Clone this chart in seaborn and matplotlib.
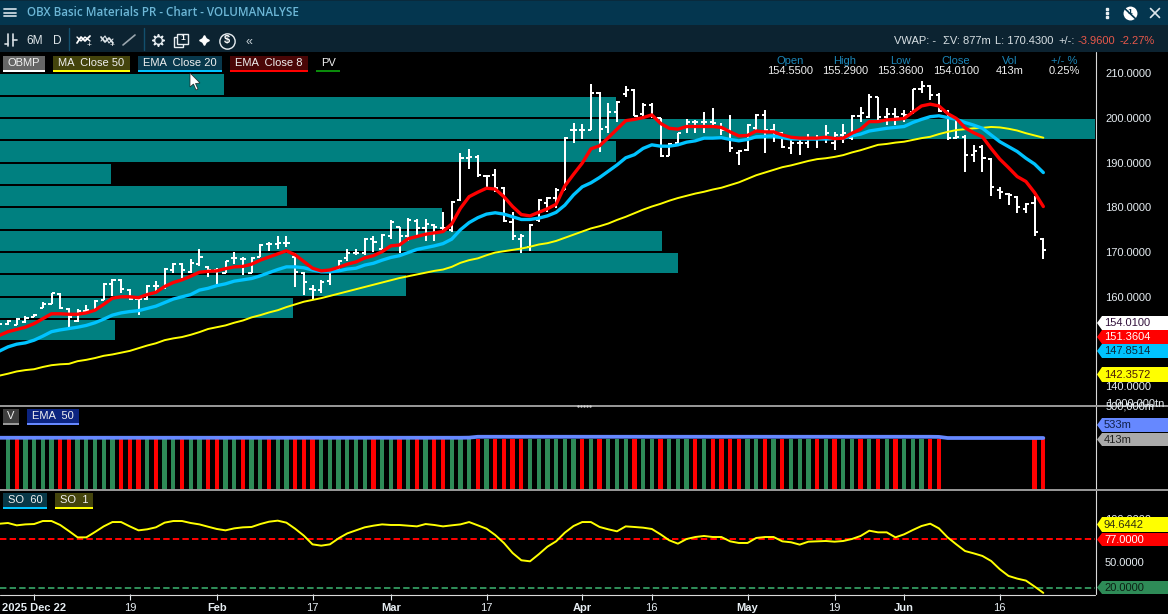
import numpy as np
import pandas as pd
import seaborn as sns
import matplotlib.pyplot as plt
from matplotlib.patches import Polygon, Rectangle

sns.set_style("dark")
plt.rcParams['font.family'] = ['Liberation Sans', 'DejaVu Sans']

W, H = 1168, 614
PLOT_RIGHT = 1095

# session -1 is the hovered bar, just off the left edge of the chart
sessions = list(range(-1, 120))

opens = [154.55, 153.9, 153.8, 154.4, 155.5, 157.4, 158.5, 160.6, 157.2, 154.6, 156.9,
         156.9, 159.3, 162.9, 163.8, 161.5, 159.6, 159.4, 162.5, 161.9, 166.0,
         167.3, 165.5, 167.3, 166.7, 166.1, 165.4, 168.6, 168.4, 165.4, 169.0,
         171.8, 171.8, 172.0, 169.0, 165.3, 161.7, 161.5, 163.5, 166.0, 168.6,
         169.7, 169.7, 172.9, 170.8, 173.5, 175.7, 173.5, 177.0, 175.3, 176.0,
         175.3, 175.0, 181.7, 191.0, 191.3, 187.1, 187.2, 184.3, 176.8, 172.9,
         171.2, 177.2, 180.9, 182.0, 184.0, 197.3, 197.3, 197.3, 205.7, 197.9,
         201.3, 205.4, 206.3, 201.0, 202.9, 199.9, 191.5, 194.3, 198.1, 199.2,
         199.0, 199.0, 198.1, 197.3, 192.2, 192.8, 197.7, 200.7, 197.3, 196.6,
         193.2, 194.5, 194.3, 195.2, 195.5, 194.3, 196.2, 195.5, 200.4, 200.3,
         204.6, 200.3, 201.0, 201.0, 201.4, 206.4, 207.2, 205.1, 201.4, 195.5,
         195.7, 191.7, 193.6, 190.8, 183.9, 183.1, 182.4, 179.6, 180.9, 172.9]
highs = [155.29, 154.8, 155.2, 155.7, 156.1, 158.9, 160.9, 160.8, 157.4, 157.2, 158.2,
         159.3, 163.0, 163.9, 163.9, 161.7, 159.9, 162.6, 163.6, 166.4, 167.5,
         167.5, 168.4, 170.8, 166.9, 166.5, 168.1, 170.1, 168.8, 168.8, 171.8,
         172.3, 173.5, 173.7, 169.7, 165.6, 162.6, 163.8, 166.0, 168.2, 170.8,
         170.8, 173.1, 173.5, 174.0, 177.2, 175.7, 177.6, 177.3, 177.3, 176.2,
         179.0, 181.4, 192.1, 193.1, 191.7, 187.2, 188.5, 184.5, 178.9, 174.0,
         176.2, 181.8, 182.3, 184.3, 195.8, 198.8, 198.6, 207.5, 205.9, 203.3,
         203.7, 207.2, 206.5, 203.3, 203.4, 199.9, 194.3, 196.7, 199.7, 199.6,
         201.4, 202.2, 198.8, 200.7, 192.8, 198.6, 200.8, 201.8, 198.7, 196.9,
         195.1, 195.1, 196.4, 196.2, 198.4, 196.9, 198.7, 200.7, 202.4, 205.3,
         204.6, 202.2, 202.2, 201.8, 206.6, 208.3, 207.4, 205.5, 201.8, 199.9,
         196.2, 194.0, 194.0, 191.0, 184.5, 183.3, 182.6, 180.9, 182.5, 173.1]
lows = [153.36, 153.6, 153.6, 154.1, 155.4, 157.4, 158.5, 157.2, 153.2, 154.4, 156.5,
        156.9, 159.3, 160.2, 160.8, 159.3, 156.0, 159.3, 161.4, 161.7, 165.4,
        164.1, 165.4, 167.0, 164.5, 162.9, 165.3, 167.3, 164.9, 165.3, 168.8,
        170.3, 170.8, 171.1, 162.3, 160.5, 159.4, 160.9, 162.6, 165.6, 167.9,
        169.4, 169.4, 170.1, 170.6, 172.9, 169.7, 172.5, 173.5, 172.5, 172.5,
        175.0, 174.6, 181.5, 188.5, 186.9, 184.6, 183.4, 176.8, 172.6, 169.9,
        170.2, 176.8, 179.0, 179.8, 183.9, 194.3, 195.3, 197.3, 192.5, 196.6,
        199.2, 204.8, 200.4, 200.3, 199.9, 191.2, 191.5, 194.3, 196.7, 196.6,
        196.6, 197.7, 196.2, 192.5, 189.5, 192.7, 197.3, 192.1, 194.7, 193.2,
        191.9, 191.7, 193.2, 193.4, 194.3, 192.8, 194.3, 195.1, 199.2, 200.1,
        199.2, 198.4, 198.4, 199.2, 201.0, 205.5, 204.0, 201.4, 195.1, 195.3,
        188.0, 190.2, 188.0, 182.6, 181.9, 180.5, 178.7, 178.8, 173.6, 168.5]
closes = [154.01, 154.5, 155.0, 155.3, 155.9, 158.5, 160.8, 157.4, 155.4, 156.9, 157.0,
          159.1, 162.9, 163.8, 161.7, 159.4, 159.6, 162.5, 162.5, 166.2, 167.3,
          166.0, 167.5, 169.0, 166.0, 166.0, 167.9, 168.6, 168.4, 168.6, 171.6,
          171.8, 172.0, 172.1, 165.6, 163.4, 161.5, 163.4, 165.8, 168.0, 169.9,
          169.9, 172.9, 172.2, 173.8, 176.8, 173.5, 177.2, 175.3, 176.3, 175.7,
          175.5, 181.3, 191.0, 191.3, 187.2, 187.1, 184.3, 177.0, 173.5, 173.5,
          176.1, 181.7, 182.0, 184.0, 195.6, 197.3, 197.3, 205.7, 197.5, 201.3,
          203.5, 206.3, 200.4, 202.9, 200.3, 191.5, 194.2, 196.6, 199.2, 199.0,
          199.0, 198.8, 197.3, 193.2, 192.7, 198.4, 200.7, 197.3, 196.6, 193.6,
          194.5, 194.3, 195.2, 195.5, 196.6, 196.2, 196.6, 200.4, 201.2, 204.8,
          200.3, 201.0, 200.3, 200.7, 206.4, 207.2, 205.1, 201.6, 195.5, 195.7,
          191.7, 192.7, 191.0, 184.5, 183.5, 182.8, 180.0, 180.8, 174.39, 170.43]

ema8 = [151.36, 152.2, 152.7, 153.2, 154.0, 155.1, 156.2, 156.2, 156.1, 156.1, 156.4,
        157.0, 158.3, 159.7, 160.0, 160.0, 159.8, 160.5, 161.0, 162.3, 163.2,
        163.8, 164.6, 165.5, 165.7, 165.8, 166.3, 166.7, 166.8, 167.3, 168.2,
        168.9, 169.6, 170.3, 169.4, 167.9, 166.4, 165.8, 166.0, 166.6, 167.3,
        167.8, 168.7, 169.2, 170.1, 171.4, 171.6, 173.0, 173.5, 174.0, 174.3,
        174.6, 176.3, 179.8, 182.4, 183.4, 184.3, 184.1, 182.4, 180.2, 178.4,
        178.1, 178.9, 179.7, 180.7, 184.8, 187.4, 189.9, 193.1, 193.8, 195.6,
        197.5, 199.4, 199.7, 200.1, 200.7, 198.8, 197.7, 197.5, 198.1, 198.1,
        198.1, 198.1, 197.9, 196.9, 196.0, 196.1, 197.1, 196.9, 196.9, 196.2,
        195.7, 195.5, 195.5, 195.5, 195.7, 195.4, 195.5, 196.6, 197.5, 199.2,
        199.2, 199.6, 199.7, 199.9, 201.3, 202.7, 203.1, 202.7, 201.0, 199.9,
        197.8, 196.7, 195.8, 193.2, 190.8, 188.9, 186.9, 185.8, 183.3, 180.2]
ema20 = [147.85, 148.8, 149.4, 149.7, 150.3, 151.2, 152.2, 152.6, 152.9, 153.2, 153.6,
         154.2, 155.0, 155.9, 156.4, 156.7, 156.9, 157.4, 157.9, 158.7, 159.5,
         160.0, 160.5, 161.5, 161.9, 162.5, 162.9, 163.5, 163.8, 164.1, 164.7,
         165.4, 166.1, 166.7, 166.7, 166.5, 166.0, 165.6, 165.6, 165.8, 166.2,
         166.4, 167.1, 167.5, 168.2, 168.8, 169.2, 169.9, 170.6, 171.0, 171.4,
         171.9, 172.9, 175.0, 176.6, 177.7, 178.5, 178.8, 178.5, 177.9, 177.3,
         177.3, 177.6, 178.1, 178.9, 180.5, 182.8, 184.6, 185.5, 186.7, 188.1,
         189.5, 191.1, 191.8, 193.2, 194.0, 193.7, 193.7, 194.0, 194.6, 194.9,
         195.5, 195.5, 195.6, 195.2, 194.9, 195.2, 195.8, 195.9, 196.0, 195.6,
         195.3, 195.3, 195.3, 195.3, 195.3, 195.4, 195.5, 196.0, 196.4, 197.1,
         197.4, 197.7, 197.9, 198.1, 199.0, 199.7, 200.3, 200.5, 200.1, 199.7,
         199.0, 198.4, 197.7, 196.2, 194.7, 193.6, 192.5, 191.0, 189.7, 187.8]
ma50 = [142.36, 142.8, 143.3, 143.6, 143.8, 144.3, 144.7, 144.9, 145.0, 145.6, 145.9,
        146.3, 146.8, 147.1, 147.5, 147.9, 148.5, 149.1, 149.6, 150.3, 150.7,
        151.0, 151.5, 152.1, 152.8, 153.2, 153.6, 154.2, 154.7, 155.4, 155.9,
        156.5, 157.0, 157.7, 158.3, 158.9, 159.3, 159.7, 160.2, 160.7, 161.2,
        161.7, 162.2, 162.7, 163.2, 163.7, 164.2, 164.6, 165.0, 165.4, 165.8,
        166.1, 166.7, 167.6, 168.2, 168.6, 169.3, 169.9, 170.2, 170.5, 170.8,
        171.2, 171.7, 172.0, 172.5, 173.2, 173.9, 174.6, 175.3, 175.8, 176.4,
        177.2, 177.9, 178.7, 179.5, 180.2, 180.8, 181.5, 182.1, 182.6, 183.1,
        183.5, 184.0, 184.4, 185.0, 185.6, 186.4, 187.2, 187.8, 188.4, 189.0,
        189.4, 189.9, 190.4, 190.8, 191.0, 191.3, 191.7, 192.3, 192.8, 193.4,
        194.0, 194.2, 194.5, 194.7, 195.1, 195.5, 195.8, 196.4, 196.9, 197.3,
        197.5, 197.7, 197.8, 198.0, 197.9, 197.6, 197.2, 196.6, 196.1, 195.6]

# volume bars all reach the same height in the picture, nan = no bar drawn
volume = [np.nan, 413, 413, 413, 413, 413, 413, 413, 413, 413, 413,
          413, 413, 413, 413, 413, 413, 413, 413, 413, 413,
          413, 413, 413, 413, 413, 413, 413, 413, 413, 413,
          413, 413, 413, 413, 413, 413, 413, 413, 413, 413,
          413, 413, 413, 413, 413, 413, 413, 413, 413, 413,
          413, 413, 413, 413, 413, 413, 413, 413, 413, 413,
          413, 413, 413, 413, 413, 413, 413, 413, 413, 413,
          413, 413, 413, 413, 413, 413, 413, 413, 413, 413,
          413, 413, 413, 413, 413, 413, 413, 413, 413, 413,
          413, 413, 413, 413, 413, 413, 413, 413, 413, 413,
          413, 413, 413, 413, 413, 413, 413, 413, np.nan, np.nan,
          np.nan, np.nan, np.nan, np.nan, np.nan, np.nan, np.nan, np.nan, 413, 413]
red_sessions = [1, 6, 7, 13, 14, 15, 17, 20, 23, 24, 27, 30, 33, 34, 35, 42, 45, 47,
                49, 50, 54, 56, 57, 58, 59, 66, 68, 72, 75, 79, 81, 82, 83, 84, 87,
                89, 93, 95, 98, 100, 102, 106, 107, 118, 119]
vol_ema = [423, 423, 423, 423, 423, 423, 423, 423, 423, 423, 423,
           423, 423, 423, 423, 423, 423, 423, 423, 423, 423,
           423, 423, 423, 423, 423, 423, 423, 423, 423, 423,
           423, 423, 423, 423, 423, 423, 423, 423, 423, 423,
           423, 423, 423, 423, 423, 423, 423, 423, 423, 423,
           423, 423, 423, 424, 431, 431, 431, 431, 431, 431,
           431, 431, 431, 431, 431, 431, 431, 431, 431, 431,
           431, 431, 431, 431, 431, 431, 431, 431, 431, 431,
           431, 431, 431, 431, 431, 431, 431, 431, 431, 431,
           431, 431, 431, 431, 431, 431, 431, 431, 431, 431,
           431, 431, 431, 431, 431, 431, 431, 430, 421, 421,
           421, 421, 421, 421, 421, 421, 421, 421, 421, 421]

stoch = [94.64, 95.5, 92.8, 93.9, 94.3, 97.8, 97.8, 93.2, 86.2, 78.9, 78.9,
         85.1, 91.6, 96.6, 96.6, 91.6, 87.0, 88.2, 90.5, 95.9, 97.8,
         97.8, 95.5, 93.9, 91.2, 88.6, 87.0, 89.3, 90.5, 90.9, 94.3,
         97.0, 98.2, 95.9, 88.9, 80.9, 70.8, 69.3, 70.8, 77.8, 83.5,
         87.0, 90.5, 92.4, 93.9, 93.2, 93.2, 92.4, 91.6, 94.3, 93.2,
         91.6, 92.8, 93.9, 96.6, 92.8, 88.9, 81.6, 72.4, 60.8, 52.4,
         51.2, 59.3, 68.1, 74.3, 84.3, 92.0, 96.6, 96.6, 90.9, 88.2,
         85.9, 91.6, 90.9, 90.1, 88.6, 82.4, 75.5, 71.6, 77.0, 79.3,
         80.5, 79.3, 79.3, 74.3, 72.4, 72.4, 78.2, 79.3, 79.3, 74.3,
         73.2, 70.5, 73.9, 74.3, 74.7, 73.9, 74.7, 77.0, 80.5, 86.6,
         84.7, 84.7, 78.9, 82.4, 87.4, 92.0, 94.7, 89.3, 78.9, 70.8,
         63.1, 60.4, 57.4, 51.6, 42.0, 34.3, 31.2, 28.9, 22.0, 14.7]

# volume by price, 5 point bins, as percent of the biggest bin
profile_price = [207.5, 202.5, 197.5, 192.5, 187.5, 182.5, 177.5, 172.5, 167.5, 162.5, 157.5, 152.5]
profile_share = [20.5, 56.3, 100.0, 56.3, 10.1, 26.2, 40.4, 60.5, 61.9, 37.1, 26.8, 10.5]

price_ticks = [140, 150, 160, 170, 180, 190, 200, 210]
date_pos = [3, 14, 24, 35, 44, 55, 66, 74, 85, 95, 103, 114]
date_labels = ['2025 Dec 22', '19', 'Feb', '17', 'Mar', '17', 'Apr', '16', 'May', '19', 'Jun', '16']
bold_dates = ['2025 Dec 22', 'Feb', 'Mar', 'Apr', 'May', 'Jun']

df = pd.DataFrame({'session': sessions, 'open': opens, 'high': highs, 'low': lows, 'close': closes,
                   'ema8': ema8, 'ema20': ema20, 'ma50': ma50, 'volume': volume,
                   'vol_ema': vol_ema, 'stoch': stoch})
df['side'] = np.where(df['session'].isin(red_sessions), 'down', 'up')

BG = 'black'
TEAL = '#008080'
RED = '#ff0000'
BLUE = '#00c3ff'
YELLOW = '#ffff00'
GREEN = '#2e8b57'
PERI = '#6688ff'
TICK = '#e6edf2'

fig = plt.figure(figsize=(W / 100, H / 100), dpi=100, facecolor=BG)


def panel(top, bottom, zorder=1):
    ax = fig.add_axes([0, 1 - bottom / H, PLOT_RIGHT / W, (bottom - top) / H], zorder=zorder)
    ax.set_xlim(-0.92, 124.94)
    ax.grid(False)
    ax.set_xlabel('')
    ax.set_ylabel('')
    for s in ax.spines.values():
        s.set_visible(False)
    return ax


PRICE_LIM = (135.57, 214.77)

# volume profile sits behind the price bars on its own axes
ax_prof = panel(52, 406, zorder=0)
ax_prof.set_facecolor(BG)
sns.barplot(x=profile_share, y=profile_price, orient='h', native_scale=True, color=TEAL,
            saturation=1, width=0.91, linewidth=0, ax=ax_prof)
ax_prof.set_xlim(0, 100)
ax_prof.set_ylim(*PRICE_LIM)
ax_prof.axis('off')

ax = panel(52, 406)
ax.patch.set_alpha(0)
ax.vlines(df['session'], df['low'], df['high'], color='white', lw=1.44)
ax.hlines(df['open'], df['session'] - 0.36, df['session'], color='white', lw=1.44)
ax.hlines(df['close'], df['session'], df['session'] + 0.36, color='white', lw=1.44)
sns.lineplot(data=df, x='session', y='ma50', color=YELLOW, lw=1.4, ax=ax)
sns.lineplot(data=df, x='session', y='ema20', color=BLUE, lw=2.4, ax=ax)
sns.lineplot(data=df, x='session', y='ema8', color=RED, lw=2.4, ax=ax)
ax.set_xlim(-0.92, 124.94)
ax.set_ylim(*PRICE_LIM)
ax.set_xlabel('')
ax.set_ylabel('')
ax.set_xticks([])
ax.yaxis.tick_right()
ax.set_yticks(price_ticks)
ax.set_yticklabels(['%.4f' % v for v in price_ticks], color=TICK, fontsize=8)
ax.tick_params(axis='y', length=0, pad=7.2)

ax_vol = panel(407, 490)
ax_vol.set_facecolor(BG)
sns.barplot(data=df, x='session', y='volume', hue='side', palette={'up': GREEN, 'down': RED},
            native_scale=True, dodge=False, width=0.5, saturation=1, errorbar=None,
            linewidth=0, legend=False, ax=ax_vol)
sns.lineplot(data=df, x='session', y='vol_ema', color=PERI, lw=2.7, ax=ax_vol)
ax_vol.set_xlim(-0.92, 124.94)
ax_vol.set_ylim(0, 672)
ax_vol.set_xlabel('')
ax_vol.set_ylabel('')
ax_vol.set_xticks([])
ax_vol.set_yticks([])

ax_so = panel(491, 594)
ax_so.set_facecolor(BG)
ax_so.axhline(77, color=RED, lw=1.44, dashes=(3.2, 1.6))
ax_so.axhline(20, color=GREEN, lw=1.44, dashes=(3.2, 1.6))
sns.lineplot(data=df, x='session', y='stoch', color=YELLOW, lw=1.4, ax=ax_so)
ax_so.set_xlim(-0.92, 124.94)
ax_so.set_ylim(13.4, 132.5)
ax_so.set_xlabel('')
ax_so.set_ylabel('')
ax_so.yaxis.tick_right()
ax_so.set_yticks([50, 100])
ax_so.set_yticklabels(['50.0000', '100.0000'], color=TICK, fontsize=8)
ax_so.tick_params(axis='y', length=0, pad=7.2)
ax_so.set_xticks(date_pos)
ax_so.set_xticklabels(date_labels, color=TICK, fontsize=8)
for lab in ax_so.get_xticklabels():
    if lab.get_text() in bold_dates:
        lab.set_fontweight('bold')
ax_so.tick_params(axis='x', length=4.3, width=0.8, color=TICK, pad=2, bottom=True)

# everything around the plots is drawn in pixel coordinates on a clear overlay
ov = fig.add_axes([0, 0, 1, 1], zorder=10)
ov.set_xlim(0, W)
ov.set_ylim(H, 0)
ov.axis('off')
ov.patch.set_alpha(0)

ov.add_patch(Rectangle((0, 0), W, 25, color='#04364f', lw=0))
ov.add_patch(Rectangle((0, 0), W, 1, color='#0a2a3c', lw=0))
ov.add_patch(Rectangle((0, 25), W, 27, color='#0c2331', lw=0))
ov.plot([PLOT_RIGHT + 0.5] * 2, [52, 594], color='#d8d8d8', lw=0.8)
ov.plot([0, PLOT_RIGHT], [594.5, 594.5], color='#d8d8d8', lw=0.8)
ov.plot([0, W], [406, 406], color='#9a9a9a', lw=1.4)
ov.plot([0, W], [490, 490], color='#9a9a9a', lw=1.4)
ov.plot([578, 581, 584, 587, 590], [405.5] * 5, ls='', marker='s', ms=0.7, color='#d0d0d0')


def txt(x, y, s, color='white', size=8, ha='left', **kw):
    ov.text(x, y, s, color=color, fontsize=size, ha=ha, va='center', **kw)


# title bar
for yy in (9, 12.5, 16):
    ov.plot([4, 16], [yy, yy], color='#c8d6de', lw=1.3)
txt(27, 12.5, 'OBX Basic Materials PR - Chart - VOLUMANALYSE', color='#6cb6d6', size=8.4,
    family='Open Sans', fontweight='semibold')
ov.plot([1107] * 3, [9, 13, 17], ls='', marker='s', ms=1.8, color='#e8eef2')
ov.plot(1130, 13, marker='o', ms=9, color='white')
txt(1130, 13, '1', color='#04364f', size=6, ha='center', fontweight='bold')
ov.plot([1122, 1138], [6, 21], color='#04364f', lw=1.2)
ov.plot([1150.5, 1159.5], [8.5, 17.5], color='#dfe7ec', lw=1.2)
ov.plot([1150.5, 1159.5], [17.5, 8.5], color='#dfe7ec', lw=1.2)

# toolbar
ov.plot([8, 8], [34, 46], color='#d8dfe4', lw=1.2)
ov.plot([13, 13], [34, 46], color='#d8dfe4', lw=1.2)
ov.plot([5, 8], [44, 44], color='#d8dfe4', lw=1.2)
ov.plot([13, 17], [40, 40], color='#d8dfe4', lw=1.2)
txt(26, 40.5, '6M', color='#dde4e8', size=8.6)
txt(53, 40.5, 'D', color='#dde4e8', size=8.6)
ov.plot([68.5, 68.5], [28, 50], color='#12506e', lw=1)
ov.plot([143.5, 143.5], [28, 50], color='#12506e', lw=1)
ov.plot([77, 81, 85, 90], [43, 37, 41, 36], color='white', lw=1.3)
ov.plot([77, 81, 85, 90], [37, 41, 37, 41], color='white', lw=1)
txt(87, 45, '+', size=6)
ov.plot([101, 105, 109, 113], [37, 42, 38, 43], color='#dde4e8', lw=1.3)
ov.plot([101, 105, 109, 113], [41, 36, 43, 39], color='#dde4e8', lw=0.8)
txt(110, 45, '+', size=6)
ov.plot([123, 135], [45, 35], color='#9aa6ae', lw=1.2)
ov.plot(158, 40, marker=(8, 1, 0), ms=9, color='#e8eef2')
ov.plot(158, 40, marker='o', ms=3.5, color='#0c2331')
ov.add_patch(Rectangle((174, 37), 9, 10, fill=False, ec='#e8eef2', lw=1))
ov.add_patch(Rectangle((177, 34), 11, 10, fc='#0c2331', ec='#e8eef2', lw=1))
txt(182.5, 39, '1', size=6, ha='center', fontweight='bold')
ov.plot(204, 40, marker=(4, 1, 0), ms=7, color='white')
ov.plot(227, 40.5, marker='o', ms=11, mfc='none', mec='#e8eef2', mew=1)
txt(227, 40.5, '$', size=8, ha='center', fontweight='bold')
txt(245, 42, '«', color='#c8d2d8', size=9)

txt(894, 40.5, 'VWAP: -', color='#d8e0e4')
txt(943, 40.5, 'ΣV: 877m', color='#d8e0e4')
txt(995, 40.5, 'L: 170.4300', color='#d8e0e4')
txt(1058, 40.5, '+/-:', color='#d8e0e4')
txt(1077, 40.5, '-3.9600', color='#e8584a')
txt(1120, 40.5, '-2.27%', color='#e8584a')

# indicator chips
chips = [(3, 45, 56, 'OBMP', '#666666', 'white'),
         (53, 130, 56, 'MA  Close 50', '#44440c', YELLOW),
         (138, 222, 56, 'EMA  Close 20', '#08384c', BLUE),
         (230, 308, 56, 'EMA  Close 8', '#4a0606', RED),
         (316, 340, 56, 'PV', BG, '#0a8a0a'),
         (3, 19, 409, 'V', '#3e3e3e', '#9a9a9a'),
         (27, 79, 409, 'EMA  50', '#0c2480', PERI),
         (3, 47, 493, 'SO  60', '#083848', BLUE),
         (55, 93, 493, 'SO  1', '#44440c', YELLOW)]
for x0, x1, y0, name, bg, line in chips:
    ov.add_patch(Rectangle((x0, y0), x1 - x0, 15, color=bg, lw=0))
    ov.add_patch(Rectangle((x0, y0 + 14), x1 - x0, 2, color=line, lw=0))
    txt((x0 + x1) / 2, y0 + 7, name, color='#f0f0f0', size=8, ha='center')

# hovered bar readout
heads = ['Open', 'High', 'Low', 'Close', 'Vol', '+/- %']
vals = ['154.5500', '155.2900', '153.3600', '154.0100', '413m', '0.25%']
cols = [790.5, 845, 900, 956, 1010, 1064]
for cx, hd, val in zip(cols, heads, vals):
    txt(cx, 61.5, hd, color='#1b86b8', size=8, ha='center')
    txt(cx, 71.5, val, color='#f0f0f0', size=8, ha='center')

# overlapping labels where the volume scale hits the price pane
txt(1106, 404, '1.000.000tn', color=TICK, size=8)
txt(1106, 406.5, '500,000m', color=TICK, size=8)

# value tags on the right scale
tags = [(316, 330, '154.0100', 'white', '#30103a'),
        (330, 344, '151.3604', RED, 'white'),
        (344, 358, '147.8514', BLUE, '#08283a'),
        (367, 382, '142.3572', YELLOW, '#4a1a08'),
        (418, 432, '533m', PERI, '#10204a'),
        (433, 446, '413m', '#aaaaaa', '#202020'),
        (517, 532, '94.6442', YELLOW, '#303010'),
        (533, 546, '77.0000', RED, 'white'),
        (581, 594, '20.0000', GREEN, '#0c2014')]
for y0, y1, label, bg, fg in tags:
    ym = (y0 + y1) / 2
    ov.add_patch(Polygon([(1097, ym), (1102, y0), (W, y0), (W, y1), (1102, y1)], closed=True,
                         color=bg, lw=0))
    txt(1104, ym + 0.3, label, color=fg, size=8)

# mouse pointer
ov.add_patch(Polygon([(190, 73), (190, 87), (193.5, 84), (196, 90), (198, 89), (195.5, 83.5), (200, 83)],
                     closed=True, fc='white', ec='#222222', lw=0.5))

fig.savefig('out.png', dpi=100, facecolor=BG)
